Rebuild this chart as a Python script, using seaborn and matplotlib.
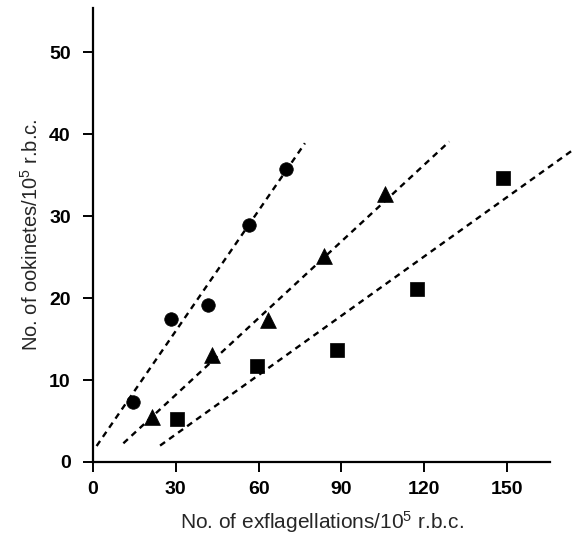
import pandas as pd
import matplotlib.pyplot as plt
import seaborn as sns

# Valores
circle_x = [14.5, 28.1, 41.8, 56.4, 69.8]
circle_y = [7.3, 17.4, 19.1, 28.9, 35.7]
triangle_x = [21.3, 43.2, 63.5, 83.8, 105.8]
triangle_y = [5.5, 13.0, 17.3, 25.1, 32.7]
square_x = [30.3, 59.3, 88.5, 117.3, 148.7]
square_y = [5.2, 11.7, 13.7, 21.1, 34.6]

# extremos de las rectas discontinuas
circle_line_x = [1.3, 76.8]
circle_line_y = [1.95, 38.9]
triangle_line_x = [11.0, 129.1]
triangle_line_y = [2.28, 39.1]
square_line_x = [24.3, 174.0]
square_line_y = [2.0, 38.1]

x_ticks = [0, 30, 60, 90, 120, 150]
y_ticks = [0, 10, 20, 30, 40, 50]

sns.set_style("ticks")
plt.rcParams['font.family'] = ['Liberation Sans', 'DejaVu Sans']
plt.rcParams['mathtext.fontset'] = 'custom'
plt.rcParams['mathtext.rm'] = 'Liberation Sans'

puntos = pd.DataFrame({
    'x': circle_x + triangle_x + square_x,
    'y': circle_y + triangle_y + square_y,
    'grupo': ['circle'] * 5 + ['triangle'] * 5 + ['square'] * 5,
})
tamanos = {'circle': 95, 'triangle': 130, 'square': 115}

fig = plt.figure(figsize=(5.74, 5.39), dpi=100)
ax = fig.add_axes([93 / 574, 1 - 462 / 539, 457 / 574, 454 / 539])

for lx, ly in [(circle_line_x, circle_line_y),
               (triangle_line_x, triangle_line_y),
               (square_line_x, square_line_y)]:
    sns.lineplot(x=lx, y=ly, ax=ax, color='black', linewidth=1.7,
                 linestyle='--')

for grupo, marker in [('circle', 'o'), ('triangle', '^'), ('square', 's')]:
    d = puntos[puntos['grupo'] == grupo]
    sns.scatterplot(data=d, x='x', y='y', ax=ax, marker=marker,
                    s=tamanos[grupo], color='black', edgecolor='black',
                    linewidth=0.5, zorder=3)

for line in ax.lines:
    line.set_clip_on(False)
    line.set_dashes((2.6, 2.1))

ax.set_xlim(0, 165.6)
ax.set_ylim(0, 55.4)
ax.set_xticks(x_ticks)
ax.set_yticks(y_ticks)
sns.despine(ax=ax)
for s in ['left', 'bottom']:
    ax.spines[s].set_linewidth(1.6)
    ax.spines[s].set_color('black')
ax.tick_params(axis='both', direction='out', length=7, width=1.4,
               color='black', labelsize=14, labelcolor='black')
ax.tick_params(axis='x', pad=7)
ax.tick_params(axis='y', pad=9)
for lab in ax.get_xticklabels() + ax.get_yticklabels():
    lab.set_fontweight('bold')

ax.set_xlabel('No. of exflagellations/10$\\mathregular{^5}$ r.b.c.',
              fontsize=15, labelpad=8)
ax.set_ylabel('No. of ookinetes/10$\\mathregular{^5}$ r.b.c.',
              fontsize=14.5, labelpad=5)

plt.savefig('out.png', dpi=100)
plt.close()
